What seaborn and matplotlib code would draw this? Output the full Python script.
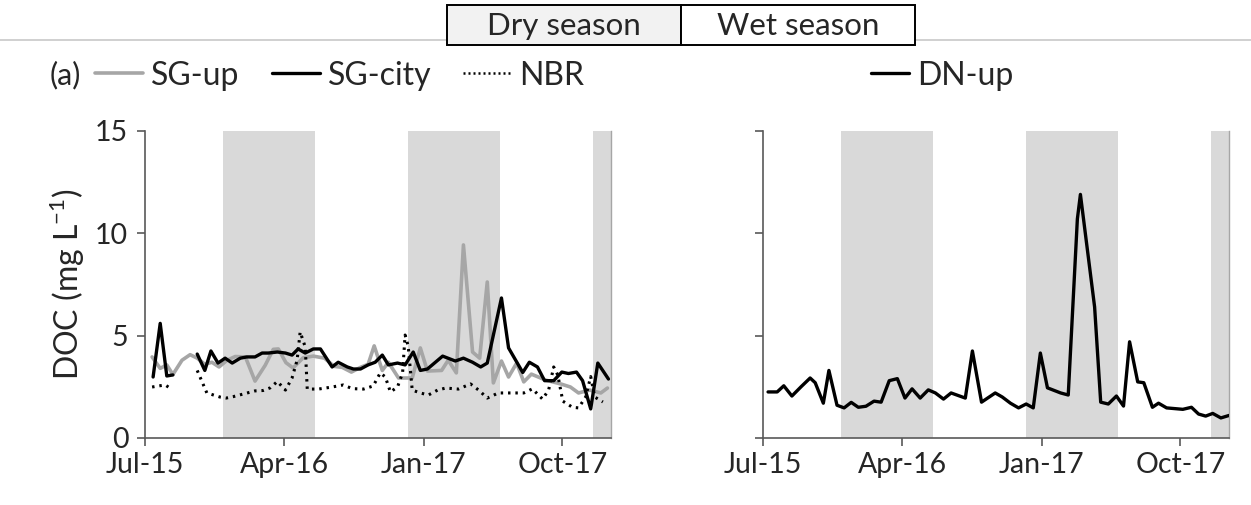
import numpy as np
import pandas as pd
import seaborn as sns
import matplotlib.pyplot as plt
import matplotlib.dates as mdates
from matplotlib.patches import Rectangle
from matplotlib.lines import Line2D

# --- данные (DOC, mg/L) ---
sg_up_dates = ['2015-07-15', '2015-07-31', '2015-08-13', '2015-08-25', '2015-09-12', '2015-09-28',
               '2015-10-12', '2015-10-27', '2015-11-10', '2015-11-24', '2015-12-10', '2015-12-26',
               '2016-01-15', '2016-02-03', '2016-02-23', '2016-03-10', '2016-03-20', '2016-04-04',
               '2016-04-18', '2016-05-08', '2016-05-28', '2016-06-19', '2016-07-08', '2016-07-24',
               '2016-08-11', '2016-08-29', '2016-09-13', '2016-09-25', '2016-10-11', '2016-10-23',
               '2016-11-12', '2016-12-09', '2016-12-25', '2017-01-08', '2017-02-05', '2017-02-18',
               '2017-03-06', '2017-03-20', '2017-04-07', '2017-04-21', '2017-05-06', '2017-05-18',
               '2017-06-03', '2017-06-17', '2017-07-03', '2017-07-17', '2017-08-01', '2017-08-29',
               '2017-09-28', '2017-10-17', '2017-11-02', '2017-11-24', '2017-12-16', '2017-12-29']
sg_up = [3.96, 3.4, 3.57, 3.1, 3.8, 4.07,
         3.9, 3.6, 3.7, 3.47, 3.8, 3.98,
         3.96, 2.78, 3.55, 4.33, 4.35, 3.68,
         3.42, 3.92, 4.0, 3.9, 3.5, 3.45,
         3.22, 3.45, 3.6, 4.5, 3.3, 3.7,
         2.93, 2.93, 4.4, 3.27, 3.3, 3.8,
         3.18, 9.43, 4.2, 3.9, 7.62, 2.69,
         3.76, 2.98, 3.66, 2.74, 3.12, 2.83,
         2.64, 2.49, 2.2, 2.34, 2.2, 2.44]

sg_city_dates = ['2015-07-17', '2015-07-31', '2015-08-13', '2015-08-25', '2015-10-12', '2015-10-27',
                 '2015-11-08', '2015-11-22', '2015-12-06', '2015-12-20', '2016-01-05', '2016-01-18',
                 '2016-02-03', '2016-02-17', '2016-02-29', '2016-03-18', '2016-04-03', '2016-04-16',
                 '2016-04-28', '2016-05-12', '2016-05-28', '2016-06-11', '2016-07-04', '2016-07-16',
                 '2016-08-03', '2016-08-15', '2016-08-29', '2016-09-13', '2016-09-27', '2016-10-11',
                 '2016-10-23', '2016-11-10', '2016-11-25', '2016-12-11', '2016-12-25', '2017-01-08',
                 '2017-02-07', '2017-03-04', '2017-03-20', '2017-04-07', '2017-04-23', '2017-05-06',
                 '2017-06-03', '2017-06-17', '2017-07-01', '2017-07-15', '2017-07-28', '2017-08-13',
                 '2017-08-27', '2017-09-14', '2017-09-30', '2017-10-13', '2017-10-29', '2017-11-10',
                 '2017-11-26', '2017-12-10', '2017-12-31']
sg_city = [2.98, 5.6, 3.03, 3.08, 4.1, 3.3,
           4.25, 3.66, 3.9, 3.66, 3.9, 3.96,
           3.96, 4.15, 4.15, 4.2, 4.15, 4.05,
           4.35, 4.15, 4.35, 4.35, 3.47, 3.7,
           3.47, 3.37, 3.37, 3.57, 3.7, 4.05,
           3.57, 3.66, 3.57, 4.2, 3.3, 3.37,
           4.0, 3.76, 3.9, 3.7, 3.47, 3.66,
           6.84, 4.4, 3.8, 3.2, 3.7, 3.47,
           2.8, 2.8, 3.22, 3.15, 3.22, 2.8,
           1.42, 3.66, 2.88]
sg_city_seg = [0] * 4 + [1] * 53   # разрыв в рядах осенью 2015

nbr_dates = ['2015-07-15', '2015-07-27', '2015-08-10', '2015-08-19', '2015-10-12', '2015-10-31',
             '2015-11-26', '2015-12-08', '2015-12-22', '2016-01-11', '2016-02-03', '2016-02-19',
             '2016-03-04', '2016-03-18', '2016-04-03', '2016-04-16', '2016-04-26', '2016-05-02',
             '2016-05-12', '2016-05-16', '2016-06-07', '2016-07-04', '2016-07-26', '2016-08-13',
             '2016-09-04', '2016-09-23', '2016-10-07', '2016-10-17', '2016-10-27', '2016-11-10',
             '2016-11-20', '2016-11-25', '2016-12-01', '2016-12-09', '2016-12-25', '2017-01-10',
             '2017-01-28', '2017-02-13', '2017-03-10', '2017-04-03', '2017-04-19', '2017-05-06',
             '2017-05-28', '2017-06-21', '2017-07-17', '2017-08-03', '2017-08-23', '2017-09-04',
             '2017-09-14', '2017-09-22', '2017-10-02', '2017-10-21', '2017-11-02', '2017-11-16',
             '2017-11-26', '2017-12-04', '2017-12-20']
nbr = [2.49, 2.54, 2.59, 2.44, 3.3, 2.2,
       2.0, 1.95, 2.02, 2.15, 2.3, 2.32,
       2.45, 2.76, 2.34, 2.93, 3.8, 5.18,
       4.45, 2.39, 2.39, 2.49, 2.59, 2.41,
       2.39, 2.54, 3.18, 2.98, 2.25, 2.49,
       3.18, 5.03, 4.5, 2.34, 2.2, 2.1,
       2.34, 2.44, 2.39, 2.64, 2.34, 1.95,
       2.2, 2.2, 2.2, 2.4, 1.9, 2.34,
       3.47, 3.08, 1.8, 1.5, 1.47, 2.0,
       3.0, 2.0, 1.76]
nbr_seg = [0] * 4 + [1] * 53

dn_up_dates = ['2015-07-11', '2015-07-29', '2015-08-11', '2015-08-27', '2015-09-14', '2015-10-02',
               '2015-10-12', '2015-10-28', '2015-11-08', '2015-11-24', '2015-12-08', '2015-12-22',
               '2016-01-05', '2016-01-20', '2016-02-05', '2016-02-19', '2016-03-06', '2016-03-22',
               '2016-04-06', '2016-04-20', '2016-05-06', '2016-05-22', '2016-06-05', '2016-06-21',
               '2016-07-06', '2016-08-03', '2016-08-17', '2016-09-04', '2016-10-01', '2016-10-15',
               '2016-10-31', '2016-11-16', '2016-12-01', '2016-12-15', '2016-12-29', '2017-01-12',
               '2017-02-07', '2017-02-22', '2017-03-12', '2017-03-18', '2017-04-15', '2017-04-27',
               '2017-05-12', '2017-05-28', '2017-06-11', '2017-06-23', '2017-07-09', '2017-07-21',
               '2017-08-07', '2017-08-19', '2017-09-04', '2017-10-06', '2017-10-23', '2017-11-06',
               '2017-11-20', '2017-12-04', '2017-12-20', '2018-01-05']
dn_up = [2.25, 2.25, 2.55, 2.05, 2.5, 2.93,
         2.7, 1.7, 3.3, 1.6, 1.47, 1.74,
         1.5, 1.55, 1.8, 1.75, 2.8, 2.9,
         1.95, 2.4, 1.95, 2.35, 2.2, 1.9,
         2.2, 1.95, 4.25, 1.75, 2.2, 2.0,
         1.7, 1.47, 1.66, 1.47, 4.15, 2.45,
         2.2, 2.1, 10.7, 11.9, 6.4, 1.75,
         1.66, 2.05, 1.56, 4.7, 2.74, 2.7,
         1.5, 1.7, 1.47, 1.4, 1.5, 1.17,
         1.07, 1.2, 0.98, 1.1]

dry_start = ['2015-12-01', '2016-12-01', '2017-12-01']
dry_end = ['2016-06-01', '2017-06-01', '2018-01-10']
tick_dates = ['2015-07-01', '2016-04-01', '2017-01-01', '2017-10-01']
x_min, x_max = '2015-07-01', '2018-01-05'

sns.set_style('white')
plt.rcParams['font.family'] = ['Lato', 'DejaVu Sans']
plt.rcParams['mathtext.fontset'] = 'custom'
plt.rcParams['mathtext.rm'] = 'Lato'

fig = plt.figure(figsize=(12.51, 5.05), dpi=100)
ax1 = fig.add_axes([0.1159, 0.1327, 0.3725, 0.608])
ax2 = fig.add_axes([0.6099, 0.1327, 0.3725, 0.608])

df_up = pd.DataFrame({'date': pd.to_datetime(sg_up_dates), 'doc': sg_up})
df_city = pd.DataFrame({'date': pd.to_datetime(sg_city_dates), 'doc': sg_city, 'seg': sg_city_seg})
df_nbr = pd.DataFrame({'date': pd.to_datetime(nbr_dates), 'doc': nbr, 'seg': nbr_seg})
df_dn = pd.DataFrame({'date': pd.to_datetime(dn_up_dates), 'doc': dn_up})

for ax in (ax1, ax2):
    for s, e in zip(dry_start, dry_end):
        ax.axvspan(pd.Timestamp(s), pd.Timestamp(e), color='#d9d9d9', lw=0, zorder=0)

sns.lineplot(data=df_up, x='date', y='doc', ax=ax1, color='#a6a6a6', lw=2.6, zorder=2)
sns.lineplot(data=df_nbr, x='date', y='doc', units='seg', estimator=None, ax=ax1,
             color='black', lw=2.2, ls=(0, (0.8, 1.6)), zorder=3)
sns.lineplot(data=df_city, x='date', y='doc', units='seg', estimator=None, ax=ax1,
             color='black', lw=2.4, zorder=4)
sns.lineplot(data=df_dn, x='date', y='doc', ax=ax2, color='black', lw=2.4, zorder=4)

for ax in (ax1, ax2):
    ax.set_xlim(pd.Timestamp(x_min), pd.Timestamp(x_max))
    ax.set_ylim(0, 15)
    ax.set_yticks([0, 5, 10, 15])
    ax.set_xticks(pd.to_datetime(tick_dates))
    ax.xaxis.set_major_formatter(mdates.DateFormatter('%b-%y'))
    ax.tick_params(axis='both', labelsize=20.5, direction='out', length=6, width=1.2,
                   color='#595959', left=True, bottom=True)
    ax.tick_params(axis='x', pad=4)
    ax.tick_params(axis='y', pad=6)
    ax.set_xlabel('')
    ax.set_ylabel('')
    ax.spines['top'].set_visible(False)
    for side in ('left', 'bottom'):
        ax.spines[side].set_color('#595959')
        ax.spines[side].set_linewidth(1.2)
    ax.spines['right'].set_color('#a6a6a6')
    ax.spines['right'].set_linewidth(1.0)

ax2.set_yticklabels([])
ax1.set_ylabel('DOC (mg L$^{-1}$)', fontsize=23, labelpad=6)

h_up = Line2D([], [], color='#a6a6a6', lw=2.6)
h_city = Line2D([], [], color='black', lw=2.4)
h_nbr = Line2D([], [], color='black', lw=1.8, ls=(0, (0.8, 1.2)))
ax1.legend([h_up, h_city, h_nbr], ['SG-up', 'SG-city', 'NBR'], ncol=3, frameon=False,
           fontsize=23, loc='center', bbox_to_anchor=(0.418, 1.18), handlelength=1.5,
           handletextpad=0.25, columnspacing=1.0, borderpad=0.2)
ax2.legend([h_city], ['DN-up'], frameon=False, fontsize=23, loc='center',
           bbox_to_anchor=(0.385, 1.18), handlelength=1.2, handletextpad=0.25)
fig.text(0.04, 0.851, '(a)', fontsize=22, va='center')

# шапка с сезонами
fig.add_artist(Line2D([0, 1], [0.921, 0.921], transform=fig.transFigure, color='#c8c8c8', lw=1.2, zorder=1))
fig.add_artist(Rectangle((0.3573, 0.911), 0.1871, 0.079, transform=fig.transFigure,
                         facecolor='#f2f2f2', edgecolor='black', lw=1.4, zorder=2))
fig.add_artist(Rectangle((0.5444, 0.911), 0.1870, 0.079, transform=fig.transFigure,
                         facecolor='white', edgecolor='black', lw=1.4, zorder=2))
fig.text(0.4508, 0.948, 'Dry season', fontsize=22.5, ha='center', va='center', zorder=3)
fig.text(0.6379, 0.948, 'Wet season', fontsize=22.5, ha='center', va='center', zorder=3)

fig.savefig('out.png', dpi=100)
